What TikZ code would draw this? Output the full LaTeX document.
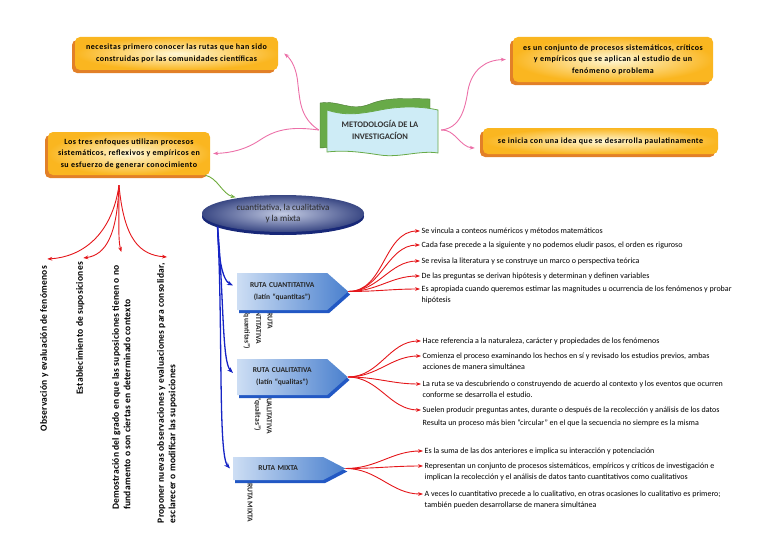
\documentclass[tikz,border=0pt]{standalone}
\usepackage{fontspec}
\setmainfont{Carlito}
\newfontfamily\abierta{Carlito}[LetterSpace=6]
\newfontfamily\vertical{Carlito}[LetterSpace=2]
\usetikzlibrary{arrows.meta,positioning,shapes.geometric,shapes.symbols,shadows}

\definecolor{naranja}{RGB}{250,182,32}
\definecolor{amarillo}{RGB}{255,248,214}
\definecolor{sombra}{RGB}{226,128,40}
\definecolor{azulclaro}{RGB}{205,222,244}
\definecolor{azul}{RGB}{74,128,206}
\definecolor{azulosc}{RGB}{34,88,196}
\definecolor{elipin}{RGB}{196,204,228}
\definecolor{elipout}{RGB}{58,72,132}
\definecolor{elipsombra}{RGB}{24,40,120}
\definecolor{cRosa}{RGB}{236,112,168}
\definecolor{cRojo}{RGB}{228,22,26}
\definecolor{cAzul}{RGB}{22,36,196}
\definecolor{cVerde}{RGB}{112,172,62}
\definecolor{bandaverde}{RGB}{104,170,72}
\definecolor{bandaazul}{RGB}{206,236,246}

\begin{document}
\begin{tikzpicture}[x=1pt,y=-1pt,
  obox/.style={rounded corners=5pt,inner color=amarillo,outer color=naranja,
    font=\abierta\bfseries\fontsize{8}{11.5}\selectfont,align=center,
    drop shadow={shadow xshift=-3pt,shadow yshift=-3pt,fill=sombra,opacity=1}},
  ruta/.style={signal,signal to=east,left color=azulclaro,right color=azul,
    text width=76pt,inner xsep=7pt,align=center,text=black!85,
    font=\bfseries\fontsize{7.5}{12}\selectfont,
    drop shadow={shadow xshift=2pt,shadow yshift=-3pt,fill=azulosc,opacity=1}},
  ghost/.style={rotate=-90,align=center,text=black!85,
    font=\bfseries\fontsize{7.5}{11.5}\selectfont},
  vtext/.style={rotate=90,anchor=north east,align=left,inner sep=0pt,
    font=\vertical\bfseries\fontsize{9.5}{11.5}\selectfont},
  item/.style={anchor=north west,align=left,inner sep=1.5pt,
    font=\fontsize{8}{10.5}\selectfont},
  flecharosa/.style={draw=cRosa,line width=0.9pt,-{Stealth[length=5pt]}},
  flecharoja/.style={draw=cRojo,line width=0.9pt,-{Stealth[length=5pt]}},
  flechaazul/.style={draw=cAzul,line width=1.3pt,-{Stealth[length=6pt]}}]
  \useasboundingbox (0,0) rectangle (768,543);

  % banner
  \draw[fill=bandaverde,draw=bandaverde!70!black]
    (320,103) .. controls (340,100) and (350,112) .. (370,104)
    .. controls (385,98) and (400,98) .. (430,99) -- (430,142) -- (320,148) -- cycle;
  \draw[fill=bandaazul,draw=bandaverde,line width=0.8pt]
    (327,110) .. controls (345,116) and (360,114) .. (380,110)
    .. controls (400,106) and (420,106) .. (438,110) -- (438,153)
    .. controls (420,150) and (400,158) .. (380,155)
    .. controls (360,152) and (345,150) .. (327,152) -- cycle;
  \node[minimum width=122pt,minimum height=40pt,align=center,
    font=\bfseries\fontsize{8.5}{12}\selectfont,text=black!80] (metod) at (380,130)
    {METODOLOGÍA DE LA\\INVESTIGACÍON};

  \node[obox,minimum width=203pt,minimum height=33pt] (rutas) at (176.5,53.5)
    {necesitas primero conocer las rutas que han sido\\construidas por las comunidades científicas};
  \node[obox,minimum width=200pt,minimum height=45pt] (conj) at (613,59.5)
    {es un conjunto de procesos sistemáticos, críticos\\y empíricos que se aplican al estudio de un\\fenómeno o problema};
  \node[obox,minimum width=235pt,minimum height=26pt] (inicia) at (600.5,141)
    {se inicia con una idea que se desarrolla paulatinamente};
  \node[obox,minimum width=162pt,minimum height=43pt] (tres) at (129,153.5)
    {Los tres enfoques utilizan procesos\\sistemáticos, reflexivos y empíricos en\\su esfuerzo de generar conocimiento};

  \node[ellipse,minimum width=162pt,minimum height=37pt,inner color=elipin,outer color=elipout,
    align=center,font=\fontsize{9}{11.5}\selectfont,text=black!85,
    drop shadow={shadow xshift=0pt,shadow yshift=-3pt,fill=elipsombra,opacity=1}] (enfoques)
    at (283,213.5) {cuantitativa, la cualitativa\\y la mixta};

  % textos girados bajo las rutas
  \node[ghost] (g1) at (258,321) {RUTA\\CUANTITATIVA\\(latín “quantitas”)};
  \node[ghost] (g2) at (263,405) {RUTA CUALITATIVA\\(latín “qualitas”)};
  \node[ghost] (g3) at (250,503) {RUTA MIXTA};

  \node[ruta,minimum height=37pt,signal pointer angle=83,anchor=west] (cuant) at (237,291.5)
    {RUTA CUANTITATIVA\\(latín “quantitas”)};
  \node[ruta,minimum height=36pt,signal pointer angle=83,anchor=west] (cual) at (237,377)
    {RUTA CUALITATIVA\\(latín “qualitas”)};
  \node[ruta,minimum height=23pt,signal pointer angle=55,anchor=west] (mixta) at (233,468.5)
    {RUTA MIXTA};

  % textos verticales
  \node[vtext] (obs) at (40,266) {Observación y evaluación de fenómenos};
  \node[vtext] (est) at (76,262) {Establecimiento de suposiciones};
  \node[vtext] (dem) at (112,265) {Demostración del grado en que las suposiciones tienen o no\\fundamento o son ciertas en determinado contexto};
  \node[vtext] (prop) at (157,263) {Proponer nuevas observaciones y evaluaciones para consolidar,\\esclarecer o modificar las suposiciones};

  % cuantitativa
  \node[item] (q1) at (420,226.5) {Se vincula a conteos numéricos y métodos matemáticos};
  \node[item] (q2) at (420,240.5) {Cada fase precede a la siguiente y no podemos eludir pasos, el orden es riguroso};
  \node[item] (q3) at (420,256.5) {Se revisa la literatura y se construye un marco o perspectiva teórica};
  \node[item] (q4) at (420,271.5) {De las preguntas se derivan hipótesis y determinan y definen variables};
  \node[item] (q5) at (420,284.5) {Es apropiada cuando queremos estimar las magnitudes u ocurrencia de los fenómenos y probar\\hipótesis};
  % cualitativa
  \node[item] (l1) at (421,336.5) {Hace referencia a la naturaleza, carácter y propiedades de los fenómenos};
  \node[item] (l2) at (421,351.5) {Comienza el proceso examinando los hechos en sí y revisado los estudios previos, ambas\\acciones de manera simultánea};
  \node[item] (l3) at (421,379.5) {La ruta se va descubriendo o construyendo de acuerdo al contexto y los eventos que ocurren\\conforme se desarrolla el estudio.};
  \node[item] (l4) at (421,405.5) {Suelen producir preguntas antes, durante o después de la recolección y análisis de los datos};
  \node[item] (l5) at (421,418.5) {Resulta un proceso más bien “circular” en el que la secuencia no siempre es la misma};
  % mixta
  \node[item] (m1) at (423,446.5) {Es la suma de las dos anteriores e implica su interacción y potenciación};
  \node[item] (m2) at (423,461.5) {Representan un conjunto de procesos sistemáticos, empíricos y críticos de investigación e\\implican la recolección y el análisis de datos tanto cuantitativos como cualitativos};
  \node[item] (m3) at (423,489.5) {A veces lo cuantitativo precede a lo cualitativo, en otras ocasiones lo cualitativo es primero;\\también pueden desarrollarse de manera simultánea};

  % conectores
  \draw[flecharosa] (metod.west) .. controls (300,118) and (300,100) .. (298,85)
    .. controls (297,70) and (292,60) .. ([xshift=6pt]rutas.east);
  \draw[flecharosa] (metod.west) .. controls (290,126) and (275,130) .. (260,140)
    .. controls (245,150) and (230,153) .. ([xshift=3pt]tres.east);
  \draw[flecharosa] (metod.east) .. controls (460,128) and (465,110) .. (468,90)
    .. controls (472,70) and (485,60) .. ([xshift=-7pt]conj.west);
  \draw[flecharosa] (metod.east) .. controls (455,129) and (460,147) .. ([xshift=-8pt,yshift=-7pt]inicia.west);
  \draw[draw=cVerde,line width=0.9pt,-{Stealth[length=5pt]}] ([xshift=-5pt]tres.south east)
    .. controls (218,178) and (222,194) .. ([xshift=10pt,yshift=3pt]enfoques.north west);

  \draw[flechaazul] ([xshift=-8pt]enfoques.south west) .. controls (218,255) and (222,280) .. ([xshift=-4pt,yshift=6pt]cuant.west);
  \draw[flechaazul] ([xshift=-8pt]enfoques.south west) .. controls (224,300) and (222,362) .. ([xshift=-4pt,yshift=4pt]cual.west);
  \draw[flechaazul] ([xshift=-8pt]enfoques.south west) .. controls (223,330) and (218,455) .. ([xshift=-3pt]mixta.west);

  \draw[flecharoja] ([xshift=-10pt,yshift=-10pt]tres.south) .. controls (112,235) and (82,257) .. ([xshift=3pt,yshift=7pt]obs.east);
  \draw[flecharoja] ([xshift=-10pt,yshift=-10pt]tres.south) .. controls (117,235) and (106,255) .. ([xshift=3pt,yshift=4pt]est.east);
  \draw[flecharoja] ([xshift=-10pt,yshift=-10pt]tres.south) .. controls (119,220) and (118,240) .. ([xshift=0pt,yshift=13pt]dem.east);
  \draw[flecharoja] ([xshift=-10pt,yshift=-10pt]tres.south) .. controls (124,240) and (140,255) .. ([xshift=0pt,yshift=6pt]prop.east);

  \foreach \i in {q1,q2,q3,q4,q5}
    \draw[flecharoja] (cuant.east) to[out=0,in=180] ([yshift=-4.5pt]\i.north west);
  \foreach \i in {l1,l2,l3,l4}
    \draw[flecharoja] (cual.east) to[out=0,in=180] ([yshift=-4.5pt]\i.north west);
  \foreach \i in {m1,m2,m3}
    \draw[flecharoja] (mixta.east) to[out=0,in=180] ([yshift=-4.5pt]\i.north west);
\end{tikzpicture}
\end{document}
